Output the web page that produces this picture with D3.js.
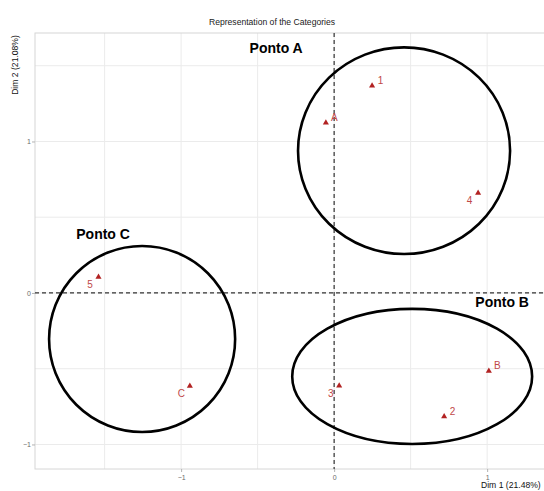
<!DOCTYPE html>
<html>
<head>
<meta charset="utf-8">
<script src="https://cdn.jsdelivr.net/npm/d3@7"></script>
<style>
  body { margin: 0; background: #fff; }
  svg { font-family: "Liberation Sans", Arial, sans-serif; display: block; }
</style>
</head>
<body>
<svg width="544" height="491"></svg>
<script>
// category coordinates
var labels = ["1", "2", "3", "4", "5", "A", "B", "C"];
var dim1 = [0.248, 0.719, 0.033, 0.941, -1.54, -0.054, 1.011, -0.943];
var dim2 = [1.368, -0.816, -0.612, 0.66, 0.106, 1.124, -0.515, -0.614];
var labelSide = ["ne", "ne", "sw", "sw", "sw", "ne", "ne", "sw"];

// groups drawn by hand on top
var groupNames = ["Ponto A", "Ponto B", "Ponto C"];
var groupLabelX = [-0.379, 1.098, -1.51];
var groupLabelY = [1.617, -0.059, 0.39];
var ellCx = [0.457, 0.51, -1.255];
var ellCy = [0.939, -0.551, -0.304];
var ellRx = [0.693, 0.784, 0.608];
var ellRy = [0.682, 0.446, 0.614];

var tickValues = [-1, 0, 1];
var gridValues = [-1.5, -1, -0.5, 0, 0.5, 1, 1.5];

var svg = d3.select("svg");
var panel = { left: 35, right: 556, top: 33, bottom: 469 };

var x = d3.scaleLinear().domain([-1.955, 1.45]).range([panel.left, panel.right]);
var y = d3.scaleLinear().domain([-1.162, 1.716]).range([panel.bottom, panel.top]);

svg.append("text")
  .attr("x", 272)
  .attr("y", 25)
  .attr("text-anchor", "middle")
  .style("font-size", "8.6px")
  .style("fill", "#1a1a1a")
  .text("Representation of the Categories");

// grid
var grid = svg.append("g");
grid.selectAll("line.gx")
  .data(gridValues.filter(function (d) { return x(d) > panel.left && x(d) < panel.right; }))
  .enter().append("line")
  .attr("x1", function (d) { return x(d); })
  .attr("x2", function (d) { return x(d); })
  .attr("y1", panel.top).attr("y2", panel.bottom)
  .style("stroke", "#ebebeb").style("stroke-width", 1);
grid.selectAll("line.gy")
  .data(gridValues.filter(function (d) { return y(d) > panel.top && y(d) < panel.bottom; }))
  .enter().append("line")
  .attr("y1", function (d) { return y(d); })
  .attr("y2", function (d) { return y(d); })
  .attr("x1", panel.left).attr("x2", panel.right)
  .style("stroke", "#ebebeb").style("stroke-width", 1);

svg.append("rect")
  .attr("x", panel.left).attr("y", panel.top)
  .attr("width", panel.right - panel.left)
  .attr("height", panel.bottom - panel.top)
  .style("fill", "none").style("stroke", "#d6d6d6").style("stroke-width", 1);

// axes
var xAxis = d3.axisBottom(x).tickValues(tickValues).tickSize(3).tickFormat(d3.format("d"));
var yAxis = d3.axisLeft(y).tickValues(tickValues).tickSize(3).tickFormat(d3.format("d"));
var gX = svg.append("g").attr("transform", "translate(0," + panel.bottom + ")").call(xAxis);
var gY = svg.append("g").attr("transform", "translate(" + panel.left + ",0)").call(yAxis);
[gX, gY].forEach(function (g) {
  g.select(".domain").remove();
  g.selectAll(".tick line").style("stroke", "#b3b3b3");
  g.selectAll(".tick text")
    .style("font-size", "7px")
    .style("fill", "#6b6b6b")
    .style("font-family", "Liberation Sans, Arial, sans-serif");
});
gY.selectAll(".tick text").attr("x", -4);

svg.append("text")
  .attr("x", 481)
  .attr("y", 488)
  .style("font-size", "8.6px")
  .style("fill", "#111")
  .text("Dim 1 (21.48%)");

svg.append("text")
  .attr("transform", "translate(18,65) rotate(-90)")
  .attr("text-anchor", "middle")
  .style("font-size", "8.6px")
  .style("fill", "#111")
  .text("Dim 2 (21.08%)");

// reference lines
svg.append("line")
  .attr("x1", x(0)).attr("x2", x(0))
  .attr("y1", panel.top).attr("y2", panel.bottom)
  .style("stroke", "#333").style("stroke-width", 1.2).style("stroke-dasharray", "4,3");
svg.append("line")
  .attr("x1", panel.left).attr("x2", panel.right)
  .attr("y1", y(0)).attr("y2", y(0))
  .style("stroke", "#333").style("stroke-width", 1.2).style("stroke-dasharray", "4,3");

// points
var pts = labels.map(function (l, i) {
  return { label: l, x: dim1[i], y: dim2[i], side: labelSide[i] };
});
svg.selectAll("path.pt")
  .data(pts)
  .enter().append("path")
  .attr("class", "pt")
  .attr("d", d3.symbol().type(d3.symbolTriangle).size(16))
  .attr("transform", function (d) { return "translate(" + x(d.x) + "," + y(d.y) + ")"; })
  .style("fill", "#b22222");
svg.selectAll("text.pt")
  .data(pts)
  .enter().append("text")
  .attr("class", "pt")
  .attr("x", function (d) { return x(d.x) + (d.side == "ne" ? 8.5 : -8.5); })
  .attr("y", function (d) { return y(d.y) + (d.side == "ne" ? -5.5 : 7.5); })
  .attr("text-anchor", "middle")
  .attr("dominant-baseline", "central")
  .style("font-size", "10px")
  .style("fill", "#c04848")
  .text(function (d) { return d.label; });

// ellipses
var groups = groupNames.map(function (n, i) {
  return { name: n, lx: groupLabelX[i], ly: groupLabelY[i], cx: ellCx[i], cy: ellCy[i], rx: ellRx[i], ry: ellRy[i] };
});
svg.selectAll("ellipse")
  .data(groups)
  .enter().append("ellipse")
  .attr("cx", function (d) { return x(d.cx); })
  .attr("cy", function (d) { return y(d.cy); })
  .attr("rx", function (d) { return x(d.cx + d.rx) - x(d.cx); })
  .attr("ry", function (d) { return y(d.cy - d.ry) - y(d.cy); })
  .style("fill", "none")
  .style("stroke", "#000")
  .style("stroke-width", 2.6);
svg.selectAll("text.grp")
  .data(groups)
  .enter().append("text")
  .attr("class", "grp")
  .attr("x", function (d) { return x(d.lx); })
  .attr("y", function (d) { return y(d.ly); })
  .attr("text-anchor", "middle")
  .attr("dominant-baseline", "central")
  .style("font-size", "14px")
  .style("font-weight", "bold")
  .style("fill", "#000")
  .text(function (d) { return d.name; });
</script>
</body>
</html>
